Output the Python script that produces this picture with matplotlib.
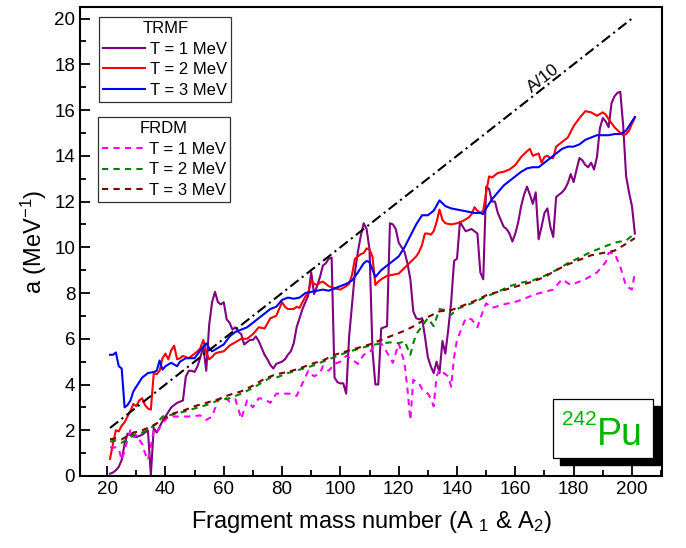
import numpy as np
import matplotlib
matplotlib.use("Agg")
import matplotlib.pyplot as plt
from matplotlib.patches import Rectangle
from matplotlib.ticker import MultipleLocator

plt.rcParams['font.family'] = ['Liberation Sans', 'DejaVu Sans']
plt.rcParams['mathtext.default'] = 'regular'

# ---- TRMF, T = 1 MeV
A_t1 = [21, 22, 23, 24, 25, 26, 27, 28, 29, 30, 31, 32, 33, 34, 35, 36, 37, 38, 39, 40,
        41, 42, 43, 44, 45, 46, 47, 48, 49, 50, 51, 52, 53, 54, 55, 56, 57, 58, 59, 60,
        61, 62, 63, 64, 65, 66, 67, 68, 69, 70, 71, 72, 73, 74, 75, 76, 77, 78, 79, 80,
        81, 82, 83, 84, 85, 86, 87, 88, 89, 90, 91, 92, 93, 94, 95, 96, 97, 98, 99, 100,
        101, 102, 103, 104, 105, 106, 107, 108, 109, 110, 111, 112, 113, 114, 115, 116, 117, 118, 119, 120,
        121, 122, 123, 124, 125, 126, 127, 128, 129, 130, 131, 132, 133, 134, 135, 136, 137, 138, 139, 140,
        141, 142, 143, 144, 145, 146, 147, 148, 149, 150, 151, 152, 153, 154, 155, 156, 157, 158, 159, 160,
        161, 162, 163, 164, 165, 166, 167, 168, 169, 170, 171, 172, 173, 174, 175, 176, 177, 178, 179, 180,
        181, 182, 183, 184, 185, 186, 187, 188, 189, 190, 191, 192, 193, 194, 195, 196, 197, 198, 199, 200, 201]
a_t1 = [0.1, 0.15, 0.25, 0.4, 0.7, 1.4, 1.85, 1.8, 1.75, 1.7, 1.75, 1.8, 1.9, 2.0, 0.05, 2.1, 1.9, 2.15, 2.4, 2.6,
        2.8, 3.0, 3.1, 3.2, 3.25, 3.3, 4.35, 4.6, 4.6, 4.55, 4.8, 5.2, 5.65, 4.6, 6.6, 7.6, 8.05, 7.6, 7.5, 7.6,
        6.85, 6.7, 6.4, 6.5, 6.3, 6.2, 5.75, 5.85, 5.95, 5.95, 6.1, 5.9, 5.6, 5.3, 5.1, 4.85, 4.7, 4.9, 4.95, 5.0,
        5.1, 5.3, 5.45, 5.8, 6.5, 6.9, 7.3, 7.6, 7.9, 8.9, 7.95, 8.3, 8.7, 9.2, 9.3, 9.5, 9.55, 4.3, 4.1, 4.05,
        4.05, 3.6, 6.1, 7.5, 8.9, 9.8, 10.5, 11.05, 10.8, 9.9, 5.5, 4.0, 4.0, 6.45, 6.5, 6.55, 11.05, 11.0, 10.8, 10.2,
        10.0, 9.8, 9.3, 8.6, 7.2, 6.9, 6.85, 6.9, 6.1, 5.2, 4.8, 4.5, 5.0, 4.5, 5.9, 5.35, 6.4, 7.6, 9.4, 9.5,
        11.1, 10.9, 10.7, 10.75, 10.8, 10.7, 10.6, 8.9, 8.6, 12.65, 12.55, 12.0, 12.0, 11.5, 11.2, 10.9, 10.8, 10.6, 10.25, 10.6,
        11.1, 11.8, 12.3, 12.65, 12.3, 11.9, 12.4, 10.35, 10.9, 11.5, 11.7, 10.9, 10.45, 12.2, 12.3, 12.4, 12.55, 12.8, 13.2, 12.85,
        13.4, 13.9, 13.8, 13.6, 13.5, 13.7, 13.4, 13.95, 15.2, 15.65, 15.5, 15.25, 16.3, 16.6, 16.75, 16.8, 15.3, 13.1, 12.4, 11.8, 10.6]

# ---- TRMF, T = 2 MeV
A_t2 = [21, 22, 23, 24, 25, 26, 27, 28, 29, 30, 31, 32, 33, 34, 35, 36, 37, 38, 39, 40,
        41, 42, 43, 44, 45, 46, 47, 48, 49, 50, 51, 52, 53, 54, 55, 56, 57, 58, 60, 62,
        64, 66, 68, 70, 72, 74, 76, 78, 80, 81, 82, 84, 85, 86, 88, 89, 90, 91, 92, 93,
        94, 95, 96, 98, 100, 102, 103, 104, 105, 106, 107, 108, 109, 110, 111, 112, 113, 114, 116, 118,
        120, 122, 124, 126, 127, 128, 129, 130, 131, 132, 133, 134, 135, 136, 138, 140, 142, 144, 145, 146,
        147, 148, 149, 150, 151, 152, 154, 156, 158, 160, 162, 164, 165, 166, 167, 168, 169, 170, 171, 172,
        173, 174, 176, 178, 180, 182, 184, 186, 188, 190, 191, 192, 194, 196, 197, 198, 199, 200, 201]
a_t2 = [0.75, 1.4, 2.0, 1.95, 2.2, 2.35, 2.6, 2.85, 3.15, 3.05, 3.3, 3.4, 3.1, 2.95, 2.9, 4.5, 4.45, 4.6, 5.15, 5.35,
        5.1, 5.5, 5.7, 5.1, 5.15, 5.25, 5.2, 5.15, 5.25, 5.35, 5.45, 5.6, 5.95, 5.4, 5.1, 5.2, 5.35, 5.4, 5.45, 5.7,
        5.85, 6.0, 6.0, 6.2, 6.5, 6.45, 6.9, 7.0, 7.6, 7.4, 7.3, 7.3, 7.4, 7.35, 7.85, 8.0, 8.55, 8.4, 8.35, 8.45,
        8.5, 8.4, 8.3, 8.2, 8.15, 8.3, 8.4, 8.8, 9.5, 9.6, 9.7, 9.75, 9.95, 9.9, 9.6, 8.35, 8.5, 8.6, 8.75, 8.8,
        8.85, 9.1, 9.35, 9.6, 9.8, 10.1, 10.6, 10.6, 10.55, 10.7, 11.1, 11.65, 11.2, 11.05, 11.0, 11.05, 11.15, 11.3, 11.45, 11.75,
        11.6, 11.5, 11.6, 12.4, 13.1, 13.05, 13.25, 13.3, 13.4, 13.6, 13.95, 14.2, 14.3, 14.0, 14.05, 14.1, 13.7, 13.95, 14.0, 13.9,
        13.9, 14.4, 14.6, 14.8, 15.3, 15.65, 15.95, 15.9, 15.75, 15.9, 15.8, 15.6, 15.25, 15.0, 14.9, 14.95, 15.1, 15.4, 15.65]

# ---- TRMF, T = 3 MeV
A_t3 = [21, 22, 23, 24, 25, 26, 27, 28, 29, 30, 31, 32, 34, 36, 37, 38, 39, 40, 42, 44,
        45, 47, 50, 52, 54, 55, 56, 58, 60, 62, 64, 66, 68, 70, 72, 74, 76, 78, 80, 82,
        84, 86, 88, 90, 92, 94, 96, 98, 100, 102, 104, 106, 108, 109, 110, 112, 114, 116, 118, 120,
        122, 124, 126, 128, 130, 132, 134, 136, 138, 140, 142, 144, 146, 148, 149, 150, 152, 154, 156, 158,
        160, 162, 164, 166, 168, 170, 172, 174, 176, 178, 180, 182, 184, 186, 188, 190, 192, 194, 196, 198, 200, 201]
a_t3 = [5.3, 5.3, 5.4, 4.8, 4.7, 3.0, 3.1, 3.3, 3.7, 3.9, 4.1, 4.3, 4.5, 4.55, 4.6, 5.05, 4.65, 4.8, 4.95, 4.8,
        5.0, 5.15, 5.15, 5.5, 5.8, 5.6, 5.45, 5.6, 5.75, 6.1, 6.3, 6.4, 6.5, 6.7, 6.9, 7.1, 7.3, 7.4, 7.7, 7.8,
        7.75, 7.8, 8.0, 8.05, 8.1, 8.15, 8.1, 8.2, 8.3, 8.4, 8.55, 8.9, 9.3, 9.4, 9.35, 8.7, 9.0, 9.2, 9.4, 9.6,
        10.0, 10.5, 11.0, 11.4, 11.4, 11.6, 12.05, 11.8, 11.7, 11.65, 11.6, 11.55, 11.5, 11.5, 11.45, 11.7, 12.1, 12.4, 12.7, 12.9,
        13.1, 13.3, 13.45, 13.5, 13.5, 13.7, 13.9, 14.1, 14.3, 14.4, 14.4, 14.5, 14.7, 14.8, 14.9, 14.9, 14.9, 14.95, 14.95, 15.1, 15.5, 15.7]

# ---- FRDM, T = 1 MeV
A_f1 = [21, 23, 24, 25, 26, 27, 28, 29, 30, 31, 32, 33, 34, 35, 36, 37, 39, 41, 44, 48,
        52, 54, 56, 58, 60, 62, 64, 66, 68, 70, 72, 74, 76, 78, 80, 83, 85, 87, 89, 91,
        93, 94, 96, 98, 100, 102, 104, 106, 108, 110, 112, 114, 116, 118, 120, 122, 123, 124, 125, 127,
        128, 130, 131, 132, 133, 134, 137, 138, 139, 140, 143, 145, 147, 149, 150, 152, 156, 161, 167, 173,
        176, 179, 184, 188, 191, 192, 194, 196, 198, 200, 201]
a_f1 = [1.25, 1.25, 1.2, 0.7, 1.1, 1.6, 2.0, 1.7, 1.8, 1.6, 1.4, 1.0, 0.7, 1.3, 2.0, 1.9, 2.3, 2.6, 2.6, 2.6,
        2.65, 2.45, 2.6, 3.3, 3.5, 3.25, 3.35, 2.5, 3.3, 3.0, 3.4, 3.35, 3.2, 3.6, 3.6, 3.6, 3.5, 4.05, 4.6, 4.35,
        4.5, 4.8, 4.6, 4.9, 5.0, 5.25, 5.1, 4.9, 5.3, 5.4, 5.75, 5.8, 5.4, 4.95, 5.8, 4.95, 3.8, 2.45, 4.2, 4.05,
        3.8, 3.6, 3.4, 3.05, 4.35, 4.65, 4.35, 3.9, 5.2, 5.95, 6.9, 6.85, 6.5, 7.25, 7.55, 7.35, 7.5, 7.65, 7.95, 8.15,
        8.6, 8.35, 8.6, 8.9, 9.35, 9.75, 9.75, 9.15, 8.3, 8.15, 8.9]

# ---- FRDM, T = 2 MeV
A_f2 = [21, 23, 25, 27, 29, 31, 33, 35, 37, 39, 41, 43, 46, 50, 54, 58, 62, 66, 70, 74,
        76, 78, 82, 86, 90, 94, 98, 102, 106, 110, 114, 118, 120, 122, 124, 125, 126, 128, 130, 132,
        134, 136, 138, 140, 142, 146, 150, 154, 158, 162, 166, 170, 174, 178, 182, 186, 190, 194, 198, 201]
a_f2 = [1.5, 1.55, 1.45, 1.6, 1.8, 1.85, 1.95, 2.1, 2.3, 2.6, 2.65, 2.7, 2.8, 2.95, 3.1, 3.3, 3.4, 3.6, 3.85, 4.15,
        4.3, 4.3, 4.5, 4.65, 4.8, 5.0, 5.2, 5.4, 5.55, 5.7, 5.8, 5.85, 5.8, 5.9, 5.3, 5.8, 6.2, 6.55, 6.9, 6.55,
        7.3, 7.25, 7.05, 7.3, 7.4, 7.6, 7.85, 8.05, 8.3, 8.45, 8.55, 8.75, 9.0, 9.3, 9.55, 9.8, 10.0, 10.2, 10.3, 10.6]

# ---- FRDM, T = 3 MeV
A_f3 = [21, 23, 25, 27, 29, 31, 33, 35, 37, 40, 43, 46, 50, 54, 58, 62, 66, 70, 74, 78,
        82, 86, 90, 94, 98, 102, 106, 110, 114, 118, 122, 126, 130, 134, 138, 142, 146, 150, 154, 158,
        162, 166, 170, 174, 178, 182, 186, 190, 194, 198, 201]
a_f3 = [1.6, 1.65, 1.6, 1.75, 1.9, 1.95, 2.05, 2.15, 2.3, 2.55, 2.75, 2.85, 3.05, 3.2, 3.35, 3.55, 3.7, 3.95, 4.25, 4.45,
        4.55, 4.7, 4.9, 5.05, 5.3, 5.45, 5.6, 5.75, 5.95, 6.15, 6.35, 6.6, 6.95, 7.2, 7.25, 7.45, 7.65, 7.9, 8.05, 8.2,
        8.35, 8.5, 8.7, 9.0, 9.25, 9.45, 9.65, 9.75, 9.85, 10.15, 10.4]

# A/10 reference line
A_ref = np.array([21, 200])
a_ref = A_ref / 10.0

fig = plt.figure(figsize=(6.86, 5.48), dpi=100)
ax = fig.add_axes([0.1166, 0.1314, 0.8484, 0.8556])

lw = 1.5
l1, = ax.plot(A_t1, a_t1, color='#800080', lw=lw, label='T = 1 MeV')
l2, = ax.plot(A_t2, a_t2, color='#ff0000', lw=lw, label='T = 2 MeV')
l3, = ax.plot(A_t3, a_t3, color='#0000ff', lw=lw, label='T = 3 MeV')
d1, = ax.plot(A_f1, a_f1, color='#ff00ff', lw=lw, dashes=(3, 2.5), label='T = 1 MeV')
d2, = ax.plot(A_f2, a_f2, color='#008000', lw=lw, dashes=(3, 2.5), label='T = 2 MeV')
d3, = ax.plot(A_f3, a_f3, color='#800000', lw=lw, dashes=(3, 2.5), label='T = 3 MeV')
ax.plot(A_ref, a_ref, color='k', lw=1.5, dashes=(5, 2, 1, 2))
ax.text(169.5, 17.4, 'A/10', rotation=38, ha='center', va='center', fontsize=12.5)

ax.set_xlim(10.7, 210.3)
ax.set_ylim(0, 20.5)
ax.xaxis.set_major_locator(MultipleLocator(20))
ax.xaxis.set_minor_locator(MultipleLocator(10))
ax.yaxis.set_major_locator(MultipleLocator(2))
ax.yaxis.set_minor_locator(MultipleLocator(1))
ax.tick_params(which='both', direction='in', top=False, right=False, width=1.3, labelsize=13.5)
ax.tick_params(which='major', length=7)
ax.tick_params(which='minor', length=4)
for s in ax.spines.values():
    s.set_linewidth(1.5)

ax.set_xlabel('Fragment mass number (A $_1$ & A$_2$)', fontsize=17, labelpad=8)
ax.set_ylabel('a (MeV$^{-1}$)', fontsize=17, labelpad=4)

leg_kw = dict(fontsize=12, title_fontsize=12, frameon=True, fancybox=False,
              edgecolor='k', handlelength=2.5, handletextpad=0.3, labelspacing=0.33,
              borderpad=0.25, borderaxespad=0)
leg1 = ax.legend(handles=[l1, l2, l3], title='TRMF', loc='upper left',
                 bbox_to_anchor=(0.033, 0.979), **leg_kw)
leg1.get_frame().set_linewidth(0.9)
ax.add_artist(leg1)
leg2 = ax.legend(handles=[d1, d2, d3], title='FRDM', loc='upper left',
                 bbox_to_anchor=(0.031, 0.765), **leg_kw)
leg2.get_frame().set_linewidth(0.9)

# 242Pu box with shadow
bx0, by0, bw, bh = 0.813, 0.0384, 0.1715, 0.1256
ax.add_patch(Rectangle((bx0 + 0.012, by0 - 0.0149), bw, bh, transform=ax.transAxes,
                       facecolor='k', edgecolor='k', zorder=5))
ax.add_patch(Rectangle((bx0, by0), bw, bh, transform=ax.transAxes,
                       facecolor='white', edgecolor='k', lw=0.9, zorder=6))
ax.text(0.888, 0.066, 'Pu', transform=ax.transAxes, fontsize=27, color='#00b400',
        ha='left', va='baseline', zorder=7)
ax.text(0.888, 0.109, '242', transform=ax.transAxes, fontsize=15, color='#00b400',
        ha='right', va='baseline', zorder=7)

fig.savefig('out.png', dpi=100)
